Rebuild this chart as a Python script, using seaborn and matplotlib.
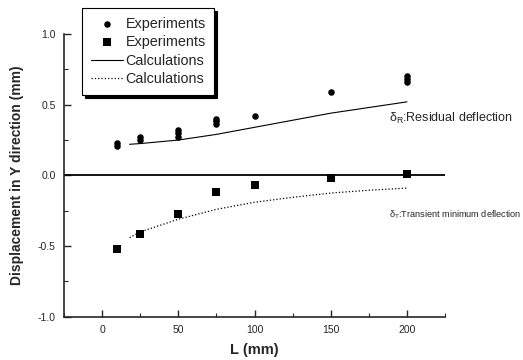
import numpy as np
import pandas as pd
import matplotlib
matplotlib.use("Agg")
import matplotlib.pyplot as plt
import seaborn as sns

res_L = [10, 10, 25, 25, 50, 50, 50, 75, 75, 75, 100, 150, 200, 200, 200]
res_d = [0.21, 0.23, 0.25, 0.27, 0.27, 0.30, 0.32, 0.365, 0.385, 0.40, 0.42, 0.59, 0.66, 0.68, 0.70]
tr_L = [10, 25, 50, 75, 100, 150, 200]
tr_d = [-0.52, -0.415, -0.275, -0.12, -0.066, -0.017, 0.007]

# calculated curves
calc_L = [18, 25, 50, 75, 100, 125, 150, 175, 200]
calc_res = [0.22, 0.225, 0.25, 0.29, 0.34, 0.39, 0.44, 0.48, 0.52]
calc_tr = [-0.44, -0.40, -0.31, -0.24, -0.19, -0.155, -0.125, -0.105, -0.09]

sns.set_style("ticks")
plt.rcParams['font.family'] = ['Liberation Sans', 'DejaVu Sans']
plt.rcParams['mathtext.fontset'] = 'custom'
plt.rcParams['mathtext.rm'] = 'Liberation Sans'
plt.rcParams['mathtext.it'] = 'Liberation Sans:italic'

fig = plt.figure(figsize=(5.23, 3.6), dpi=100)
ax = fig.add_axes([0.1224, 0.120, 0.7286, 0.7856])

ax.axhline(0, color='black', lw=1.3, zorder=1)

sns.scatterplot(x=res_L, y=res_d, marker='o', s=22, color='black', edgecolor='black',
                linewidth=0, ax=ax, label='Experiments', zorder=3)
sns.scatterplot(x=tr_L, y=tr_d, marker='s', s=28, color='black', edgecolor='black',
                linewidth=0, ax=ax, label='Experiments', zorder=3)
sns.lineplot(x=calc_L, y=calc_res, color='black', lw=0.8, ax=ax, label='Calculations')
sns.lineplot(x=calc_L, y=calc_tr, color='black', lw=0.9, linestyle=':', ax=ax, label='Calculations')

ax.set_xlim(-25, 225)
ax.set_ylim(-1.0, 1.0)
ax.set_xticks([0, 50, 100, 150, 200])
ax.set_xticks(np.arange(-25, 226, 25), minor=True)
ax.set_yticks([-1.0, -0.5, 0.0, 0.5, 1.0])
ax.set_yticks(np.arange(-1.0, 1.01, 0.25), minor=True)
ax.set_yticklabels(['-1.0', '-0.5', '0.0', '0.5', '1.0'])
ax.tick_params(which='major', direction='in', length=5, width=1, labelsize=7.5, pad=6)
ax.tick_params(which='minor', direction='in', length=3, width=0.8)
for side in ['top', 'right']:
    ax.spines[side].set_visible(False)
for side in ['left', 'bottom']:
    ax.spines[side].set_linewidth(1.2)

ax.set_xlabel('L (mm)', fontsize=10.5, fontweight='bold', labelpad=6)
ax.set_ylabel('Displacement in Y direction (mm)', fontsize=10, fontweight='bold', labelpad=10)

ax.text(0.852, 0.703, r'$\mathrm{\delta_R}$:Residual deflection', transform=ax.transAxes,
        fontsize=9, ha='left', va='center')
ax.text(0.852, 0.36, r'$\mathrm{\delta_T}$:Transient minimum deflection', transform=ax.transAxes,
        fontsize=6.6, ha='left', va='center')

leg = ax.legend(loc='upper left', bbox_to_anchor=(0.157, 0.978), bbox_transform=fig.transFigure,
                fontsize=10.4, frameon=True, fancybox=False, handlelength=2.2, handletextpad=0.2,
                borderpad=0.6, labelspacing=0.32, borderaxespad=0,
                shadow={'color': 'black', 'alpha': 1})
leg.get_frame().set_edgecolor('black')
leg.get_frame().set_linewidth(0.8)
leg.get_frame().set_alpha(1)

plt.savefig("out.png", dpi=100)
plt.close()
